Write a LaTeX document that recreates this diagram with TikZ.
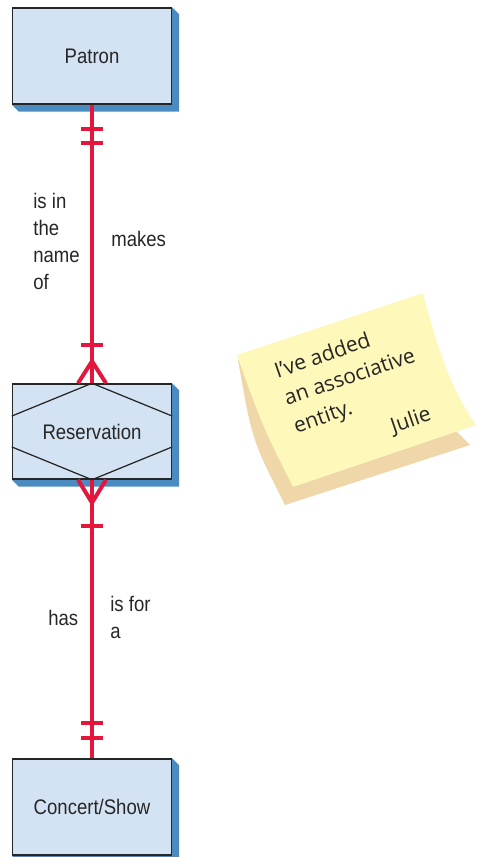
\documentclass[tikz,border=0pt]{standalone}
\usepackage{fontspec}
\setmainfont{Liberation Sans}[FakeStretch=0.88]
\newfontfamily\notefont{Open Sans}
\usetikzlibrary{backgrounds,calc,positioning}
\definecolor{boxblue}{HTML}{D4E3F3}
\definecolor{shadeblue}{HTML}{4A8BC2}
\definecolor{relred}{HTML}{E4163C}
\definecolor{inkgray}{HTML}{262626}
\definecolor{noteyellow}{HTML}{FEF8BA}
\definecolor{notebeige}{HTML}{F0D7AA}

\begin{document}
\begin{tikzpicture}[x=0.02cm, y=-0.02cm,
  entity/.style={draw=inkgray, line width=0.03cm, fill=boxblue,
                 minimum width=3.18cm, minimum height=1.92cm, inner sep=0pt,
                 font=\fontsize{12}{14}\selectfont, text=inkgray},
  rel/.style={draw=relred, line width=0.08cm},
  foot/.style={draw=relred, line width=0.08cm, line join=round},
  hexline/.style={draw=inkgray, line width=0.025cm},
  role/.style={font=\fontsize{12}{15.4}\selectfont, text=inkgray,
               inner sep=0pt, align=left},
  scribble/.style={font=\notefont\fontsize{12}{16.5}\selectfont, text=inkgray,
                   rotate=19, inner sep=0pt, align=left},
]
  \useasboundingbox (0,0) rectangle (476,857);

  % Entities ------------------------------------------------------------------
  \node[entity] (patron) at (92,56) {Patron};
  \node[entity, minimum height=1.9cm] (resv) at (92,431.5) {Reservation};
  \node[entity] (show) at (92,807) {Concert/Show};
  \draw[hexline] ($(resv.north west)!0.34!(resv.south west)$) -- (resv.north)
    -- ($(resv.north east)!0.34!(resv.south east)$);
  \draw[hexline] ($(resv.north west)!0.66!(resv.south west)$) -- (resv.south)
    -- ($(resv.north east)!0.66!(resv.south east)$);
  \begin{scope}[on background layer]
    \foreach \n in {patron,resv,show}
      \fill[shadeblue] (\n.north east) -- ++(7,7) -- ($(\n.south east)+(7,7)$)
        -- ($(\n.south west)+(7,7)$) -- (\n.south west) -- cycle;
  \end{scope}

  % Relationships -------------------------------------------------------------
  \draw[rel] (patron) -- (resv);
  \draw[rel] ($(patron.south)+(-11,24)$) -- ++(22,0);
  \draw[rel] ($(patron.south)+(-11,38)$) -- ++(22,0);
  \draw[rel] ($(resv.north)+(-11,-38)$) -- ++(22,0);
  \draw[foot] ($(resv.north)+(-14,0)$) -- ($(resv.north)+(0,-22)$)
    -- ($(resv.north)+(14,0)$);
  \node[role, anchor=north west] (patronrole) at (33,193) {is in\\the\\name\\of};
  \node[role, anchor=base west] (resvrole) at (111,247) {makes};

  \draw[rel] (resv) -- (show);
  \draw[foot] ($(resv.south)+(-14,0)$) -- ($(resv.south)+(0,23)$)
    -- ($(resv.south)+(14,0)$);
  \draw[rel] ($(resv.south)+(-11,46)$) -- ++(22,0);
  \draw[rel] ($(show.north)+(-11,-35)$) -- ++(22,0);
  \draw[rel] ($(show.north)+(-11,-20)$) -- ++(22,0);
  \node[role, anchor=base west] (showrole) at (48,625) {has};
  \node[role, anchor=north west] (forrole) at (110,596) {is for\\a};

  % Sticky note ---------------------------------------------------------------
  \fill[notebeige] (238,360) .. controls (252,440) .. (285,505) -- (470,445)
    -- (455,430) -- cycle;
  \fill[noteyellow] (237,355) -- (423,293) .. controls (440,360) and (455,395)
    .. (476,425) -- (293,487) .. controls (262,425) .. (237,355) -- cycle;
  \node[scribble, anchor=north west] (memo) at (272,363)
    {I’ve added\\an associative\\entity.};
  \node[scribble] (sign) at (411,421) {Julie};
\end{tikzpicture}
\end{document}
